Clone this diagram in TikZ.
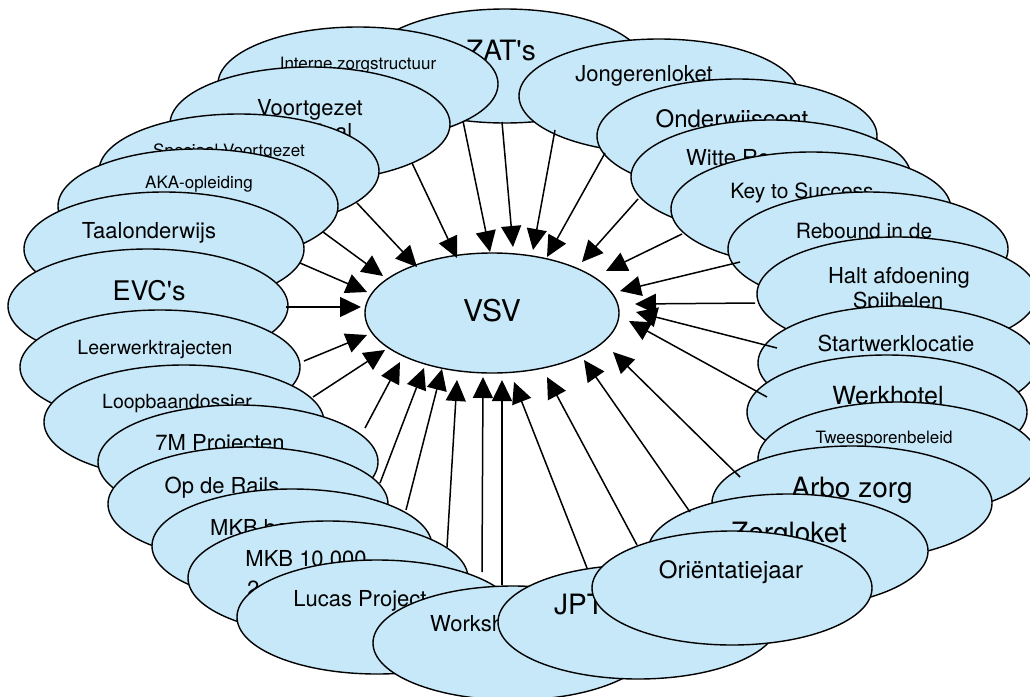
\documentclass[tikz,border=0pt]{standalone}
\usepackage{fontspec}
\setmainfont{TeX Gyre Heros}
\usetikzlibrary{shapes.geometric,arrows.meta}
\definecolor{bubblefill}{HTML}{C6E8F8}
\tikzset{
  bubble/.style={ellipse, draw=black, line width=1.4pt, fill=bubblefill,
    minimum width=280pt, minimum height=114pt, inner sep=0pt},
  hub/.style={bubble, minimum width=254pt, minimum height=120pt},
  caption/.style={inner sep=0pt, anchor=base, text=black},
  lcaption/.style={caption, anchor=base west},
  feedline/.style={line width=1.5pt, -{Triangle[length=21pt,width=20pt]}},
}
% font sizes in pt (1pt = 1 unit of the picture)
\newcommand\fz[1]{\fontsize{#1}{#1}\selectfont}
% arrow from a point of a bubble to a point near the hub
\newcommand\feed[4]{\draw[feedline] ([shift={(#2)}]#1.center) -- ([shift={(#4)}]#3.center);}
\begin{document}
\begin{tikzpicture}[x=1pt,y=-1pt]
\useasboundingbox (0,0) rectangle (1030,696);

% top
\node[bubble] (zat) at (505,66) {};
\node[caption, font=\fz{28}] (zat-t) at (501,60) {ZAT\textquotesingle s};

% left-hand chain
\node[bubble] (int) at (358,84) {};
\node[caption, font=\fz{17}] (int-t) at (358,69) {Interne zorgstructuur};
\node[bubble] (vgz) at (310,124) {};
\node[caption, font=\fz{22}] (vgz-t) at (310,115) {Voortgezet};
\node[caption, font=\fz{22}] (vgz-t2) at (310,139) {Speciaal};
\node[bubble] (spv) at (239,171) {};
\node[caption, font=\fz{17}] (spv-t) at (229,156) {Speciaal Voortgezet};
\node[bubble] (aka) at (198,206) {};
\node[caption, font=\fz{17}] (aka-t) at (199,188) {AKA-opleiding};
\node[bubble] (taal) at (164,249) {};
\node[caption, font=\fz{22}] (taal-t) at (149,238) {Taalonderwijs};
\node[bubble] (evc) at (148,306) {};
\node[caption, font=\fz{27}] (evc-t) at (149,300) {EVC\textquotesingle s};
\node[bubble] (lwt) at (160,367) {};
\node[caption, font=\fz{19.5}] (lwt-t) at (155,354) {Leerwerktrajecten};
\node[bubble] (lbd) at (184,422) {};
\node[caption, font=\fz{19.5}] (lbd-t) at (177,408) {Loopbaandossier};
\node[bubble] (m7) at (238,462) {};
\node[caption, font=\fz{22}] (m7-t) at (220,450) {7M Projecten};
\node[bubble] (rails) at (248,504) {};
\node[caption, font=\fz{22}] (rails-t) at (222,493) {Op de Rails};
\node[bubble] (mkba) at (292,546) {};
\node[lcaption, font=\fz{22}] (mkba-t) at (210,535) {MKB ba};
\node[bubble] (mkb10) at (328,578) {};
\node[caption, font=\fz{22}] (mkb10-t) at (306,566) {MKB 10.000};
\node[lcaption, font=\fz{22}] (mkb10-t2) at (247,596) {2};
\node[bubble] (lucas) at (377,617) {};
\node[caption, font=\fz{22}] (lucas-t) at (360,606) {Lucas Project};
\node[bubble] (work) at (513,643) {};
\node[lcaption, font=\fz{22}] (work-t) at (430,631) {Workshops};
\node[bubble] (jpt) at (638,622) {};
\node[lcaption, font=\fz{28}] (jpt-t) at (554,614) {JPT};

% right-hand chain
\node[bubble] (jong) at (659,96) {};
\node[caption, font=\fz{22}] (jong-t) at (644,81) {Jongerenloket};
\node[bubble] (ondw) at (737,136) {};
\node[caption, font=\fz{24}] (ondw-t) at (732,127) {Onderwijscent};
\node[bubble] (witte) at (771,177) {};
\node[lcaption, font=\fz{22}] (witte-t) at (686,165) {Witte Ro};
\node[bubble] (key) at (811,209) {};
\node[caption, font=\fz{21}] (key-t) at (802,198) {Key to Success};
\node[bubble] (reb) at (868,249) {};
\node[caption, font=\fz{21}] (reb-t) at (864,238) {Rebound in de};
\node[bubble] (halt) at (897,294) {};
\node[caption, font=\fz{22}] (halt-t) at (899,283) {Halt afdoening};
\node[caption, font=\fz{22}] (halt-t2) at (898,308) {Spijbelen};
\node[bubble] (start) at (898,363) {};
\node[caption, font=\fz{22}] (start-t) at (896,351) {Startwerklocatie};
\node[bubble] (werk) at (887,412) {};
\node[caption, font=\fz{25}] (werk-t) at (888,404) {Werkhotel};
\node[bubble] (twee) at (898,459) {};
\node[caption, font=\fz{17}] (twee-t) at (884,443) {Tweesporenbeleid};
\node[bubble] (arbo) at (852,503) {};
\node[caption, font=\fz{28}] (arbo-t) at (852,497) {Arbo zorg};
\node[bubble] (zorg) at (788,551) {};
\node[caption, font=\fz{28}] (zorg-t) at (789,542) {Zorgloket};
\node[bubble] (orie) at (732,588) {};
\node[caption, font=\fz{24}] (orie-t) at (731,578) {Oriëntatiejaar};

% hub
\node[hub] (vsv) at (492,313) {};
\node[caption, font=\fz{30}] (vsv-t) at (492,321) {VSV};

% connectors into the hub
\feed{vgz}{102,39}{vsv}{-35,-55}
\feed{int}{105,37}{vsv}{-2,-61}
\feed{zat}{-3,56}{vsv}{21,-66}
\feed{jong}{-104,34}{vsv}{41,-63}
\feed{ondw}{-132,17}{vsv}{55,-56}
\feed{witte}{-133,22}{vsv}{90,-51}
\feed{key}{-129,25}{vsv}{114,-42}
\feed{reb}{-128,13}{vsv}{128,-22}
\feed{halt}{-142,9}{vsv}{143,-9}
\feed{start}{-121,-15}{vsv}{144,-1}
\feed{werk}{-120,-15}{vsv}{137,8}
\feed{arbo}{-112,-26}{vsv}{121,39}
\feed{zorg}{-98,-39}{vsv}{92,47}
\feed{orie}{-95,-43}{vsv}{55,64}
\feed{jpt}{-51,-54}{vsv}{22,69}
\feed{work}{-11,-58}{vsv}{10,67}
\feed{lucas}{105,-45}{vsv}{-9,64}
\feed{mkb10}{119,-31}{vsv}{-35,67}
\feed{mkba}{114,-36}{vsv}{-50,56}
\feed{rails}{132,-21}{vsv}{-68,55}
\feed{m7}{127,-34}{vsv}{-92,49}
\feed{lbd}{129,-25}{vsv}{-107,37}
\feed{lwt}{144,-6}{vsv}{-125,22}
\feed{evc}{138,1}{vsv}{-131,-6}
\feed{taal}{136,14}{vsv}{-125,-21}
\feed{aka}{125,26}{vsv}{-109,-37}
\feed{spv}{118,32}{vsv}{-75,-46}
\end{tikzpicture}
\end{document}
